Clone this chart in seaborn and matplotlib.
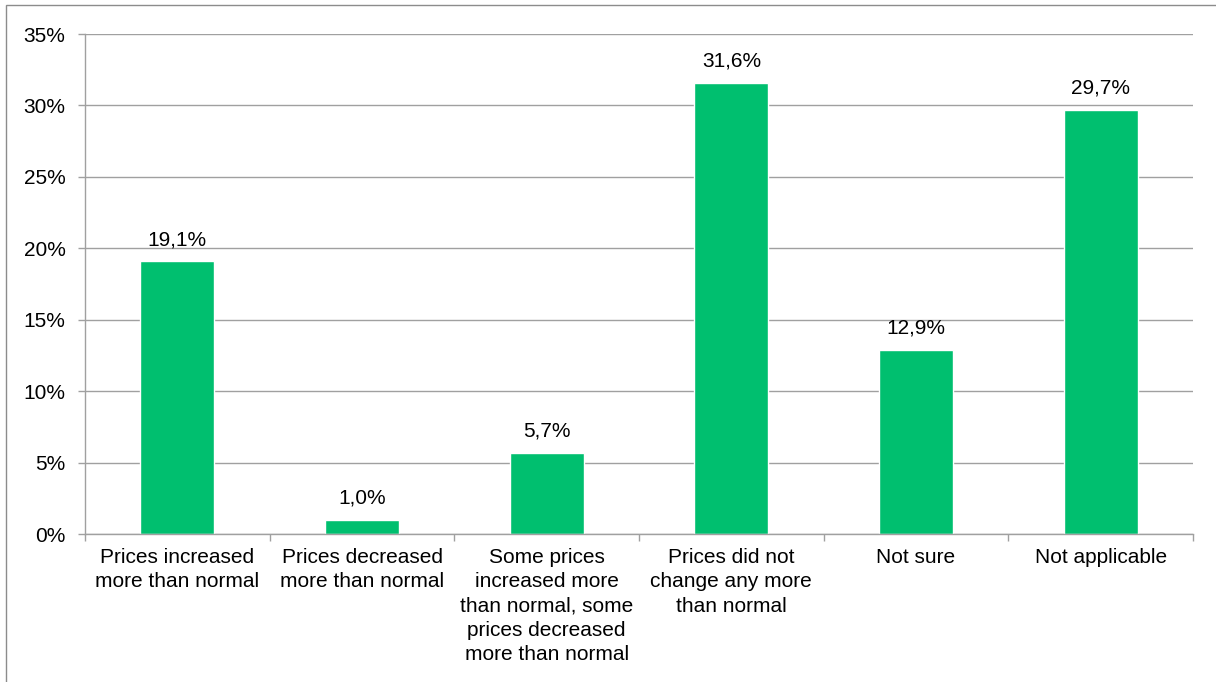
import pandas as pd
import seaborn as sns
import matplotlib.pyplot as plt
from matplotlib.patches import Rectangle

categorias = ['Prices increased\nmore than normal',
              'Prices decreased\nmore than normal',
              'Some prices\nincreased more\nthan normal, some\nprices decreased\nmore than normal',
              'Prices did not\nchange any more\nthan normal',
              'Not sure',
              'Not applicable']
valores = [19.1, 1.0, 5.7, 31.6, 12.9, 29.7]
etiquetas = ['19,1%', '1,0%', '5,7%', '31,6%', '12,9%', '29,7%']

df = pd.DataFrame({'cat': categorias, 'val': valores})

sns.set_style('white')
plt.rcParams['font.family'] = ['Liberation Sans', 'DejaVu Sans']

gris = '#a0a0a0'
verde = '#00bf6f'
fs = 15

fig = plt.figure(figsize=(12.16, 6.82), dpi=100)
ax = fig.add_axes([85 / 1216, 1 - 534 / 682, (1193 - 85) / 1216, (534 - 34) / 682])

sns.barplot(data=df, x='cat', y='val', color=verde, width=0.4, saturation=1, ax=ax)

for i, (v, t) in enumerate(zip(valores, etiquetas)):
    ax.text(i, v + 0.85, t, ha='center', va='bottom', fontsize=fs, color='black')

ax.set_ylim(0, 35)
ax.set_xlim(-0.5, 5.5)
ax.set_yticks(range(0, 36, 5))
ax.set_yticklabels([f'{y}%' for y in range(0, 36, 5)], fontsize=fs, color='black')
ax.set_xticks(range(len(categorias)))
ax.set_xticklabels(categorias, fontsize=fs, linespacing=1.36, color='black')
ax.set_xticks([i - 0.5 for i in range(len(categorias) + 1)], minor=True)
ax.tick_params(axis='x', which='major', length=0, pad=10)
ax.tick_params(axis='x', which='minor', length=5, color=gris, width=1, direction='out', bottom=True)
ax.tick_params(axis='y', length=5, color=gris, width=1, direction='out', left=True, pad=9)
ax.set_xlabel('')
ax.set_ylabel('')

ax.yaxis.grid(True, color=gris, linewidth=1)
ax.set_axisbelow(True)
for s in ['top', 'right']:
    ax.spines[s].set_visible(False)
for s in ['left', 'bottom']:
    ax.spines[s].set_color(gris)
    ax.spines[s].set_linewidth(1)

# marco del grafico (solo se ve arriba e izquierda)
fig.patches.append(Rectangle((6 / 1216, -0.1), 1.2, 1 - 5 / 682 + 0.1,
                             transform=fig.transFigure, fill=False,
                             edgecolor='#8c8c8c', linewidth=1))

fig.savefig('out.png', dpi=100)
